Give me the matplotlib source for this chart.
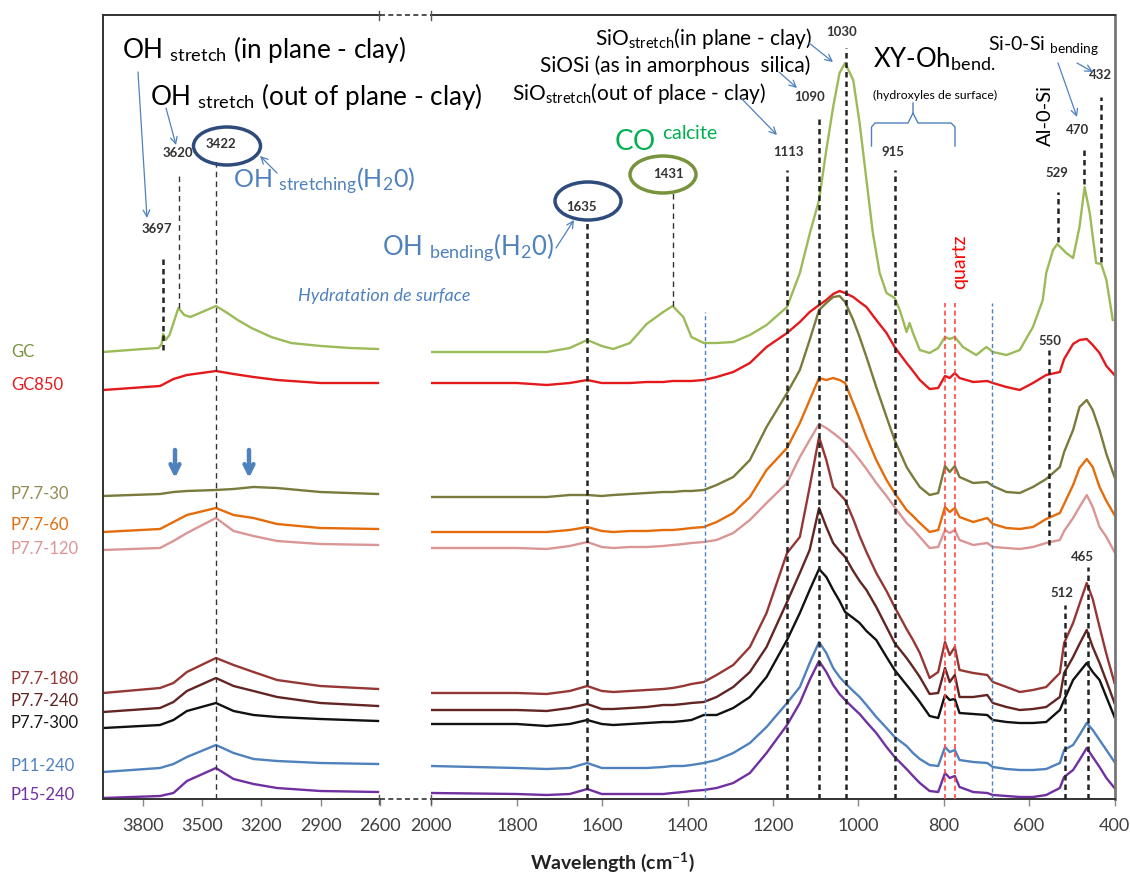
import matplotlib
matplotlib.use("Agg")
import matplotlib.pyplot as plt
from matplotlib.patches import Ellipse

plt.rcParams['font.family'] = ['Lato', 'DejaVu Sans']
plt.rcParams['mathtext.fontset'] = 'custom'
plt.rcParams['mathtext.rm'] = 'Lato'
plt.rcParams['mathtext.it'] = 'Lato:italic'
plt.rcParams['mathtext.bf'] = 'Lato:bold'
plt.rcParams['mathtext.sf'] = 'Lato'

# ---------------- data (absorbance, offset, arbitrary units) ----------------
SAMPLES = ["GC", "GC850", "P7.7-30", "P7.7-60", "P7.7-120",
           "P7.7-180", "P7.7-240", "P7.7-300", "P11-240", "P15-240"]
LINE_COLORS = ["#9BBB59", "#E3191C", "#7A7A3C", "#E46C0A", "#D99694",
               "#953735", "#632523", "#111111", "#4F81BD", "#7030A0"]
LABEL_COLORS = ["#77933C", "#E3191C", "#948A54", "#E46C0A", "#D99694",
                "#953735", "#632523", "#1A1A1A", "#4F81BD", "#7030A0"]

# left panel (OH stretching region)
GC_LEFT_WN = [4000, 3800, 3720, 3705, 3697, 3685, 3665, 3620, 3590, 3560,
              3500, 3430, 3380, 3320, 3250, 3150, 3050, 2900, 2750, 2610]
GC_LEFT = [447, 450, 451, 455, 465, 459, 464, 491, 484, 482,
           487, 493, 487, 479, 471, 462, 456, 453, 451, 450]

LEFT_WN = [4000, 3713, 3645, 3577, 3430, 3341, 3240, 3121, 2902, 2610]
GC850_LEFT = [409, 413, 420, 424, 428, 425, 422, 419, 416, 416]
P77_30_LEFT = [303, 305, 307, 308, 309, 310, 312, 311, 307, 305]
P77_60_LEFT = [267, 270, 277, 284, 291, 284, 281, 275, 271, 270]
P77_120_LEFT = [249, 251, 258, 266, 281, 268, 263, 258, 255, 254]
P77_180_LEFT = [106, 111, 116, 127, 141, 134, 127, 119, 113, 110]
P77_240_LEFT = [87, 91, 97, 108, 121, 113, 108, 102, 96, 93]
P77_300_LEFT = [71, 74, 79, 88, 96, 88, 84, 82, 80, 78]
P11_240_LEFT = [27, 31, 35, 42, 54, 46, 40, 38, 36, 35]
P15_240_LEFT = [1, 3, 6, 18, 31, 20, 15, 11, 8, 7]

# right panel (fingerprint region)
GC_RIGHT_WN = [2000, 1800, 1730, 1676, 1635, 1601, 1574, 1535, 1496, 1457,
               1435, 1410, 1391, 1362, 1332, 1293, 1254, 1215, 1167, 1137,
               1114, 1092, 1075, 1059, 1044, 1031, 1012, 997, 981, 966,
               950, 934, 915, 903, 887, 880, 872, 856, 833, 813,
               797, 786, 774, 755, 724, 700, 685, 653, 622, 591,
               568, 560, 544, 534, 513, 497, 482, 470, 458, 443,
               431, 419, 404]
GC_RIGHT = [447, 447, 447, 451, 459, 453, 450, 456, 475, 487,
            493, 482, 462, 456, 456, 457, 464, 474, 492, 526,
            565, 599, 649, 692, 726, 736, 719, 676, 619, 566,
            526, 506, 501, 489, 467, 476, 466, 449, 446, 451,
            462, 460, 462, 452, 444, 452, 447, 444, 449, 472,
            499, 526, 549, 555, 546, 541, 572, 612, 586, 536,
            535, 519, 479]

RIGHT_WN = [2000, 1800, 1730, 1676, 1635, 1601, 1574, 1535, 1496, 1457,
            1435, 1410, 1391, 1362, 1332, 1293, 1254, 1215, 1167, 1137,
            1114, 1092, 1075, 1059, 1044, 1031, 1012, 997, 981, 958,
            934, 915, 887, 872, 856, 833, 813, 797, 786, 774,
            763, 731, 698, 685, 653, 622, 591, 560, 528, 518,
            497, 482, 465, 451, 435, 419, 400]
GC850_RIGHT = [416, 416, 414, 416, 419, 416, 416, 416, 417, 417,
               418, 418, 418, 419, 422, 427, 436, 452, 466, 477,
               487, 494, 499, 505, 508, 506, 502, 497, 492, 479,
               466, 452, 436, 428, 419, 410, 411, 423, 421, 426,
               421, 417, 418, 416, 412, 409, 416, 424, 427, 440,
               455, 459, 460, 454, 446, 433, 424]
P77_30_RIGHT = [302, 302, 302, 304, 304, 303, 304, 305, 306, 307,
                307, 308, 308, 309, 314, 322, 339, 372, 406, 429,
                459, 489, 496, 502, 503, 497, 479, 462, 442, 412,
                382, 359, 332, 322, 312, 304, 306, 333, 327, 333,
                322, 316, 317, 313, 307, 306, 312, 320, 332, 347,
                369, 392, 399, 389, 369, 345, 322]
P77_60_RIGHT = [267, 267, 267, 269, 272, 268, 267, 268, 268, 269,
                269, 270, 271, 272, 277, 286, 302, 329, 351, 376,
                399, 421, 419, 421, 419, 416, 396, 380, 362, 339,
                319, 306, 289, 283, 276, 267, 269, 292, 287, 291,
                282, 277, 281, 275, 271, 270, 272, 280, 286, 295,
                314, 331, 340, 332, 312, 298, 284]
P77_120_RIGHT = [251, 251, 250, 253, 257, 252, 251, 252, 252, 253,
                 254, 255, 256, 257, 259, 266, 279, 296, 316, 342,
                 359, 375, 371, 366, 361, 356, 347, 339, 330, 316,
                 303, 292, 276, 270, 262, 251, 252, 269, 266, 269,
                 259, 254, 256, 252, 251, 250, 252, 256, 259, 268,
                 281, 292, 304, 292, 272, 262, 247]
P77_180_RIGHT = [106, 106, 105, 108, 113, 108, 107, 108, 109, 110,
                 111, 113, 115, 117, 124, 134, 152, 186, 246, 262,
                 312, 362, 339, 312, 305, 299, 280, 263, 247, 226,
                 208, 192, 170, 159, 146, 121, 127, 157, 144, 152,
                 129, 126, 124, 117, 112, 107, 109, 112, 126, 156,
                 176, 195, 216, 200, 172, 145, 116]
P77_240_RIGHT = [89, 89, 88, 91, 95, 90, 90, 91, 92, 94,
                 94, 95, 96, 97, 102, 112, 127, 152, 197, 226,
                 249, 291, 272, 256, 248, 242, 228, 218, 209, 192,
                 172, 156, 141, 132, 122, 105, 106, 131, 117, 124,
                 102, 102, 104, 96, 92, 89, 90, 92, 102, 126,
                 142, 155, 169, 152, 136, 118, 96]
P77_300_RIGHT = [75, 75, 73, 75, 79, 75, 74, 75, 76, 77,
                 77, 78, 79, 84, 84, 91, 102, 122, 159, 186,
                 209, 230, 222, 209, 198, 187, 181, 176, 168, 159,
                 142, 129, 114, 106, 97, 83, 81, 104, 99, 100,
                 86, 85, 84, 79, 77, 76, 76, 77, 89, 99,
                 119, 127, 136, 127, 119, 102, 82]
P11_240_RIGHT = [33, 31, 30, 31, 36, 31, 31, 31, 31, 32,
                 33, 33, 34, 36, 39, 46, 56, 72, 96, 112,
                 136, 157, 146, 131, 122, 116, 108, 102, 94, 82,
                 71, 62, 53, 46, 40, 34, 33, 52, 47, 49,
                 39, 37, 36, 32, 30, 29, 29, 30, 36, 49,
                 54, 64, 76, 69, 59, 49, 37]
P15_240_RIGHT = [6, 5, 4, 5, 10, 5, 5, 5, 5, 5,
                 6, 7, 8, 9, 11, 16, 26, 46, 74, 96,
                 119, 138, 127, 114, 105, 99, 91, 85, 77, 66,
                 52, 42, 30, 23, 16, 8, 7, 26, 21, 23,
                 12, 7, 6, 4, 3, 2, 2, 4, 11, 22,
                 29, 39, 51, 42, 32, 21, 11]

LEFT_SERIES = [(GC_LEFT_WN, GC_LEFT), (LEFT_WN, GC850_LEFT), (LEFT_WN, P77_30_LEFT),
               (LEFT_WN, P77_60_LEFT), (LEFT_WN, P77_120_LEFT), (LEFT_WN, P77_180_LEFT),
               (LEFT_WN, P77_240_LEFT), (LEFT_WN, P77_300_LEFT), (LEFT_WN, P11_240_LEFT),
               (LEFT_WN, P15_240_LEFT)]
RIGHT_SERIES = [(GC_RIGHT_WN, GC_RIGHT), (RIGHT_WN, GC850_RIGHT), (RIGHT_WN, P77_30_RIGHT),
                (RIGHT_WN, P77_60_RIGHT), (RIGHT_WN, P77_120_RIGHT), (RIGHT_WN, P77_180_RIGHT),
                (RIGHT_WN, P77_240_RIGHT), (RIGHT_WN, P77_300_RIGHT), (RIGHT_WN, P11_240_RIGHT),
                (RIGHT_WN, P15_240_RIGHT)]

LEFT_TICKS = [3800, 3500, 3200, 2900, 2600]
RIGHT_TICKS = [2000, 1800, 1600, 1400, 1200, 1000, 800, 600, 400]

# ---------------- figure ----------------
W, H = 1130, 880
fig = plt.figure(figsize=(W / 100, H / 100), dpi=100)
Y_TOP, Y_BOT = 15.5, 799.0
YMAX = Y_BOT - Y_TOP


def rect(x0, x1):
    return [x0 / W, 1 - Y_BOT / H, (x1 - x0) / W, (Y_BOT - Y_TOP) / H]


ax1 = fig.add_axes(rect(103.3, 380.0))
ax2 = fig.add_axes(rect(431.4, 1114.5))
ax1.set_xlim(4000, 2600)
ax2.set_xlim(2000, 400)
for ax in (ax1, ax2):
    ax.set_ylim(0, YMAX)
    ax.set_yticks([])
    ax.tick_params(axis='x', direction='out', length=5, width=1, color='#888888',
                   pad=9, labelsize=13, labelcolor='#404040')
    for s in ax.spines.values():
        s.set_color('#333333')
        s.set_linewidth(1.4)
ax1.spines['right'].set_visible(False)
ax2.spines['left'].set_visible(False)
ax2.spines['right'].set_color('#777777')
ax2.spines['right'].set_linewidth(2)
ax1.set_xticks(LEFT_TICKS)
ax2.set_xticks(RIGHT_TICKS)

for (wn, ab), col in zip(LEFT_SERIES, LINE_COLORS):
    ax1.plot(wn, ab, color=col, lw=1.7, solid_joinstyle='round', zorder=2)
for (wn, ab), col in zip(RIGHT_SERIES, LINE_COLORS):
    ax2.plot(wn, ab, color=col, lw=1.7, solid_joinstyle='round', zorder=2)

# reference dashed lines (wavenumber, from, to)
DK = '#222222'
thick = dict(color=DK, lw=1.8, linestyles=(0, (2.2, 1.6)), zorder=3)
thin = dict(color='#333333', lw=1.0, linestyles=(0, (4, 3)), zorder=3)
ax1.vlines(3700, 449, 544, **thick)
ax1.vlines(3615, 491, 626, **thin)
ax1.vlines(3430, 0, 639, **thin)
ax2.vlines(1635, 0, 577, **thick)
ax2.vlines(1435, 493, 606, **thin)
for wn, top in [(1167, 629), (1091, 684), (1030, 751), (913, 629)]:
    ax2.vlines(wn, 0, top, **thick)
for wn in (796, 773):
    ax2.vlines(wn, 0, 496, color='#FF4A4A', lw=1.2, linestyles=(0, (3, 2)), zorder=3)
ax2.vlines(1360, 0, 487, color='#4F81BD', lw=1.0, linestyles=(0, (3, 2)), zorder=3)
ax2.vlines(687, 0, 496, color='#4F81BD', lw=1.0, linestyles=(0, (3, 2)), zorder=3)
for wn, lo, hi in [(553, 254, 449), (532, 557, 607), (472, 615, 652),
                   (431, 537, 702), (516, 0, 194), (463, 0, 232)]:
    ax2.vlines(wn, lo, hi, **thick)

# ---------------- overlay in pixel coordinates ----------------
ov = fig.add_axes([0, 0, 1, 1], zorder=10)
ov.set_xlim(0, W)
ov.set_ylim(H, 0)
ov.axis('off')
ov.patch.set_alpha(0)

BLUE = '#4F81BD'
NAVY = '#2F4B7C'


def T(x, y, s, size, color='black', ha='left', va='baseline', **kw):
    ov.text(x, y, s, fontsize=size, color=color, ha=ha, va=va, **kw)


def arrow(x1, y1, x2, y2):
    ov.annotate('', xy=(x2, y2), xytext=(x1, y1),
                arrowprops=dict(arrowstyle='->', color=BLUE, lw=0.9,
                                shrinkA=0, shrinkB=0, mutation_scale=12))


# sample labels
for name, col, y in zip(SAMPLES, LABEL_COLORS,
                        [352, 385, 494, 525, 549, 679, 701, 723, 766, 795]):
    T(11, y, name, 12, color=col, va='center')

# axis break marks
for yy in (Y_TOP, Y_BOT):
    ov.plot([380, 431], [yy, yy], color='#333333', lw=1.2, ls=(0, (3, 2)))
    for xx in (379, 431):
        ov.plot([xx, xx], [yy - 4, yy + 5], color='#555555', lw=1)

# x label
T(612, 862, r'Wavelength (cm$^{\mathbf{-1}}$)', 14, color='#222222', ha='center',
  va='center', fontweight='bold')

# big annotations
T(122, 58, r'OH $_{\mathrm{stretch}}$ (in plane - clay)', 18.8)
T(150, 105, r'OH $_{\mathrm{stretch}}$ (out of plane - clay)', 18.8)
T(233, 188, r'OH $_{\mathrm{stretching}}$(H$_{2}$0)', 18, color=BLUE)
T(298, 296, 'Hydratation de surface', 13, color=BLUE, va='center', style='italic')
T(382, 255, r'OH $_{\mathrm{bending}}$(H$_{2}$0)', 18.5, color=BLUE)
T(614, 151, r'CO $^{\mathrm{calcite}}$', 20, color='#00B050')
T(595, 45, r'SiO$_{\mathrm{stretch}}$(in plane - clay)', 15)
T(540, 72, 'SiOSi (as in amorphous  silica)', 15)
T(512, 100, r'SiO$_{\mathrm{stretch}}$(out of place - clay)', 15)
T(873, 67, r'XY-Oh$_{\mathrm{bend.}}$', 18.5)
T(873, 95, '(hydroxyles de surface)', 8.8, va='center')
T(988, 50, r'Si-0-Si $_{\mathrm{bending}}$', 14)
T(1045, 116, 'Al-0-Si', 14.5, ha='center', va='center', rotation=90)
T(960, 262, 'quartz', 14, color='#FF0000', ha='center', va='center', rotation=90)

# peak numbers
for s, x, y in [('3697', 157, 229), ('3620', 178, 153), ('3422', 221, 144),
                ('1635', 581, 207), ('1431', 668, 174), ('1113', 788, 152),
                ('1090', 810, 97), ('1030', 842, 32), ('915', 893, 152),
                ('529', 1057, 173), ('470', 1078, 130), ('432', 1100, 75),
                ('550', 1050, 341), ('465', 1082, 557), ('512', 1062, 593)]:
    T(x, y, s, 9.5, color='#333333', ha='center', va='center', fontweight='bold')

# ellipses
ov.add_patch(Ellipse((227, 146), 67, 38, fill=False, ec=NAVY, lw=2.5))
ov.add_patch(Ellipse((588, 201), 66, 38, fill=False, ec=NAVY, lw=2.5))
ov.add_patch(Ellipse((663, 174.5), 66, 37, fill=False, ec='#77933C', lw=2.5))

# thin pointer arrows
for a in [(138, 72, 147, 218), (166, 108, 176, 145), (277, 173, 260, 156),
          (556, 248, 574, 220), (809, 43, 833, 62), (779, 72, 797, 88),
          (741, 98, 777, 135), (1058, 63, 1077, 117), (1077, 63, 1093, 72)]:
    arrow(*a)

# brace
ov.plot([871.5, 871.5, 875, 908, 913, 913], [146, 127, 123, 123, 113, 103],
        color=BLUE, lw=1)
ov.plot([913, 918, 951, 955, 955], [113, 123, 123, 127, 146], color=BLUE, lw=1)

# thick down arrows
for xx in (175, 249):
    ov.annotate('', xy=(xx, 478), xytext=(xx, 450),
                arrowprops=dict(arrowstyle='->', color=BLUE, lw=3.2,
                                shrinkA=0, shrinkB=0, mutation_scale=16))

fig.savefig('out.png', dpi=100)
